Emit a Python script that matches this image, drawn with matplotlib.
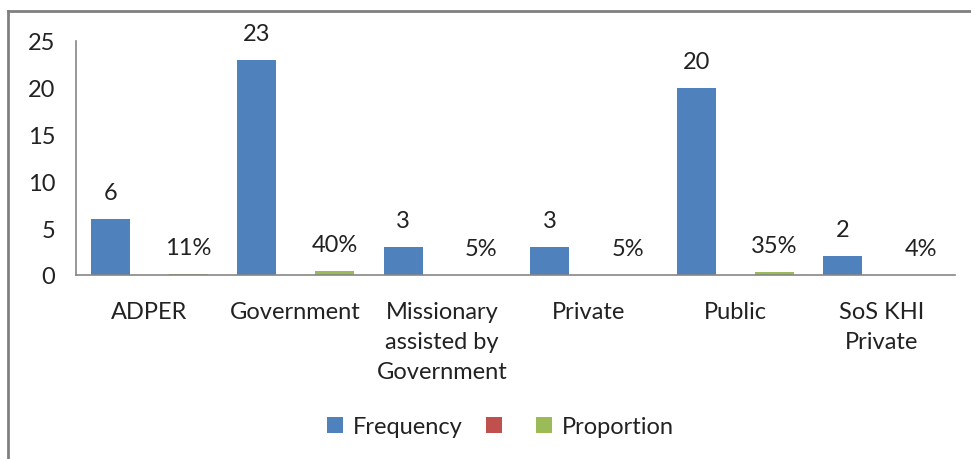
import numpy as np
import matplotlib.pyplot as plt
from matplotlib.patches import Patch
from matplotlib.lines import Line2D

plt.rcParams['font.family'] = ['Lato', 'DejaVu Sans']

categories = ['ADPER', 'Government', 'Missionary\nassisted by\nGovernment',
              'Private', 'Public', 'SoS KHI\nPrivate']
frequency = [6, 23, 3, 3, 20, 2]
blank = [0, 0, 0, 0, 0, 0]
proportion = [0.11, 0.40, 0.05, 0.05, 0.35, 0.04]

c_blue = '#4F81BD'
c_red = '#C0504D'
c_green = '#9BBB59'
c_axis = '#868686'
fs = 17

fig = plt.figure(figsize=(9.71, 4.6), dpi=100)
ax = fig.add_axes([0.0783, 0.40, 0.905, 0.5087])

x = np.arange(len(categories))
w = 0.266
b1 = ax.bar(x - w, frequency, w, color=c_blue)
b2 = ax.bar(x, blank, w, color=c_red)
b3 = ax.bar(x + w, proportion, w, color=c_green)

# data labels, centred ~26px above the bar top
for bar, v in zip(b1, frequency):
    ax.annotate(f'{v}', (bar.get_x() + bar.get_width() / 2, v),
                xytext=(0, 19), textcoords='offset points',
                ha='center', va='center', fontsize=fs, color='#222222')
for bar, v in zip(b3, proportion):
    ax.annotate(f'{v:.0%}', (bar.get_x() + bar.get_width() / 2, v),
                xytext=(0, 19), textcoords='offset points',
                ha='center', va='center', fontsize=fs, color='#222222')

ax.set_xlim(-0.5, len(categories) - 0.5)
ax.set_ylim(0, 25)
ax.set_yticks([0, 5, 10, 15, 20, 25])
ax.set_xticks(x)
ax.set_xticklabels(categories, fontsize=fs, linespacing=1.55)
ax.tick_params(axis='x', length=0, pad=18.5, colors='#222222')
ax.tick_params(axis='y', length=0, pad=15, labelsize=fs, colors='#222222')

for s in ['top', 'right']:
    ax.spines[s].set_visible(False)
for s in ['left', 'bottom']:
    ax.spines[s].set_color(c_axis)
    ax.spines[s].set_linewidth(1.2)

handles = [Patch(facecolor=c_blue), Patch(facecolor=c_red), Patch(facecolor=c_green)]
fig.legend(handles, ['Frequency', '', 'Proportion'], loc='center',
           bbox_to_anchor=(0.515, 0.07), ncol=3, frameon=False, fontsize=fs,
           handlelength=0.7, handleheight=0.7, handletextpad=0.4,
           columnspacing=1.0, labelcolor='#222222')

# chart area border (top and left edges visible)
fig.add_artist(Line2D([0.0085, 1.0], [0.974, 0.974], transform=fig.transFigure,
                      color='#808080', lw=2))
fig.add_artist(Line2D([0.0085, 0.0085], [0.0, 0.974], transform=fig.transFigure,
                      color='#808080', lw=2))

fig.savefig('out.png', dpi=100)
